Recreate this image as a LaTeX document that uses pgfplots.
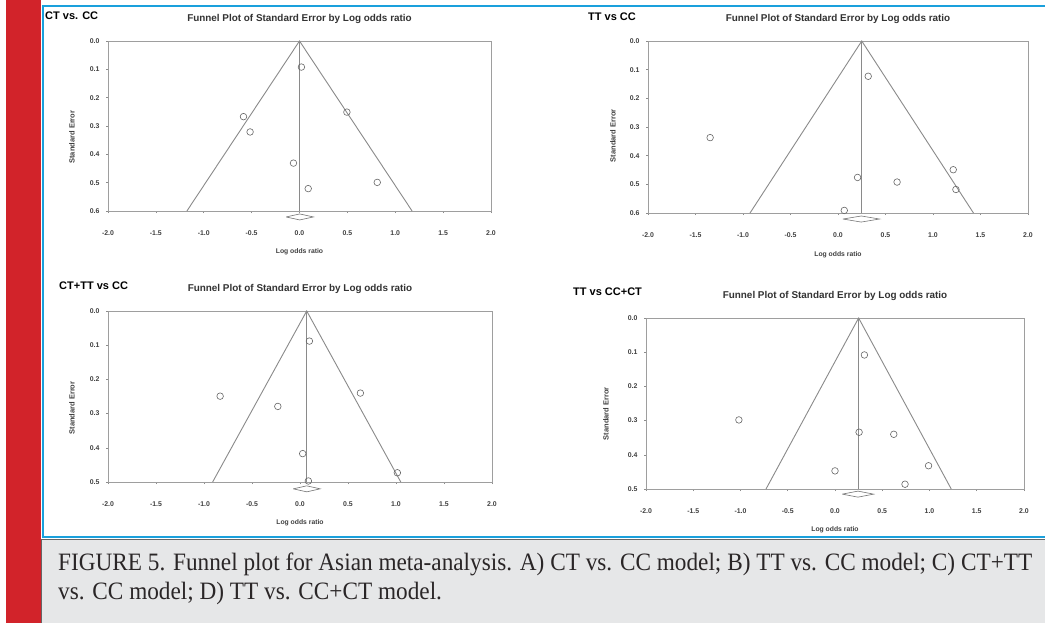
\documentclass[border=0pt]{standalone}
\usepackage{fontspec}
\setmainfont{Liberation Sans}
\newfontfamily\capfont{Liberation Serif}[FakeStretch=0.93]
\usepackage{pgfplots}
\pgfplotsset{compat=1.18}
\definecolor{figred}{HTML}{D2232A}
\definecolor{figblue}{HTML}{1AA0DC}
\definecolor{capgray}{HTML}{E6E7E8}
\definecolor{captext}{HTML}{2A2627}
\definecolor{plotgray}{HTML}{8A8A8A}
\pgfplotsset{
  funnel/.style={
    scale only axis, clip=false,
    xmin=-2, xmax=2, ymin=0, y dir=reverse,
    axis line style={draw=black!38, line width=0.9pt},
    xtick={-2,-1.5,-1,-0.5,0,0.5,1,1.5,2},
    xtick pos=bottom, ytick pos=left,
    tick align=outside, major tick length=2pt,
    tick style={draw=black!45, line width=0.6pt},
    tick label style={font=\fontsize{6.9}{7.5}\selectfont\bfseries, text=black!75},
    xticklabel style={yshift=-14pt},
    yticklabel style={xshift=-3pt},
    /pgf/number format/.cd, fixed, fixed zerofill, precision=1, assume math mode=true,
    /pgfplots/.cd,
    title={Funnel Plot of Standard Error by Log odds ratio},
    title style={font=\fontsize{9.9}{11}\selectfont\bfseries, text=black!80, anchor=center, yshift=0pt, at={(axis description cs:0.5,1.094)}},
    xlabel={Log odds ratio},
    xlabel style={font=\fontsize{6.8}{7}\selectfont\bfseries, text=black!75, anchor=center, at={(axis description cs:0.5,-0.241)}},
    ylabel={Standard Error},
    ylabel style={font=\fontsize{7.5}{8}\selectfont\bfseries, text=black!75, anchor=center},
  },
  fline/.style={draw=plotgray, line width=0.9pt, no marks},
  studies/.style={only marks, mark=o, mark size=3.3pt, mark options={draw=black!60, line width=0.6pt}},
  diam/.style={draw=black!55, line width=0.6pt, no marks, fill=white},
}
\begin{document}
\begin{tikzpicture}
\fill[white] (0pt,0pt) rectangle (1045pt,-623pt);
\fill[figred] (6pt,0pt) rectangle (40.5pt,-623pt);
\fill[capgray] (41pt,-539pt) rectangle (1045pt,-623pt);
\draw[black!60, line width=1.2pt] (41.5pt,-539pt) -- (41.5pt,-623pt);
\draw[black!60, line width=1pt] (41pt,-539.5pt) -- (1045pt,-539.5pt);
\draw[figblue, line width=2.2pt] (1045pt,-6pt) -- (42.6pt,-6pt) -- (42.6pt,-537.3pt) -- (1045pt,-537.3pt);

% ---------- Panel A ----------
\begin{axis}[funnel, at={(108pt,-211pt)}, anchor=south west, width=383pt, height=170pt,
  ymax=0.6, ytick={0,0.1,0.2,0.3,0.4,0.5,0.6},
  ylabel style={at={(axis description cs:-0.094,0.435)}}]
\addplot[fline] coordinates {(-1.176,0.6) (0,0) (1.176,0.6)};
\addplot[fline] coordinates {(0,0) (0,0.6)};
\addplot[studies] coordinates {(0.02,0.092) (-0.585,0.267) (-0.516,0.321) (0.495,0.251) (-0.063,0.431) (0.812,0.499) (0.091,0.521)};
\addplot[diam] coordinates {(-0.14,0.621) (0.0025,0.6104) (0.145,0.621) (0.0025,0.6316) (-0.14,0.621)};
\end{axis}
\node[anchor=west, inner sep=0pt, font=\fontsize{11}{12}\selectfont\bfseries] at (45pt,-16pt) {CT vs. CC};

% ---------- Panel B ----------
\begin{axis}[funnel, at={(648pt,-213pt)}, anchor=south west, width=380pt, height=172pt,
  ymax=0.6, ytick={0,0.1,0.2,0.3,0.4,0.5,0.6},
  title style={at={(axis description cs:0.5,1.093)}},
  ylabel style={at={(axis description cs:-0.092,0.45)}}]
\addplot[fline] coordinates {(-0.926,0.6) (0.25,0) (1.426,0.6)};
\addplot[fline] coordinates {(0.25,0) (0.25,0.6)};
\addplot[studies] coordinates {(0.318,0.123) (-1.346,0.337) (0.206,0.476) (0.622,0.492) (1.213,0.449) (1.241,0.518) (0.066,0.591)};
\addplot[diam] coordinates {(0.052,0.621) (0.245,0.6104) (0.437,0.621) (0.245,0.6316) (0.052,0.621)};
\end{axis}
\node[anchor=west, inner sep=0pt, font=\fontsize{11}{12}\selectfont\bfseries] at (588pt,-17pt) {TT vs CC};

% ---------- Panel C ----------
\begin{axis}[funnel, at={(108pt,-482pt)}, anchor=south west, width=384pt, height=171pt,
  ymax=0.5, ytick={0,0.1,0.2,0.3,0.4,0.5},
  ylabel style={at={(axis description cs:-0.094,0.433)}}]
\addplot[fline] coordinates {(-0.91,0.5) (0.07,0) (1.05,0.5)};
\addplot[fline] coordinates {(0.07,0) (0.07,0.5)};
\addplot[studies] coordinates {(0.098,0.088) (-0.832,0.249) (-0.231,0.279) (0.629,0.240) (0.028,0.417) (1.014,0.473) (0.087,0.497)};
\addplot[diam] coordinates {(-0.07,0.52) (0.07,0.5112) (0.21,0.52) (0.07,0.5288) (-0.07,0.52)};
\end{axis}
\node[anchor=west, inner sep=0pt, font=\fontsize{11}{12}\selectfont\bfseries] at (59pt,-286pt) {CT+TT vs CC};

% ---------- Panel D ----------
\begin{axis}[funnel, at={(646pt,-489pt)}, anchor=south west, width=378pt, height=171pt,
  ymax=0.5, ytick={0,0.1,0.2,0.3,0.4,0.5},
  ylabel style={at={(axis description cs:-0.106,0.44)}}]
\addplot[fline] coordinates {(-0.73,0.5) (0.25,0) (1.23,0.5)};
\addplot[fline] coordinates {(0.25,0) (0.25,0.5)};
\addplot[studies] coordinates {(0.311,0.108) (-1.017,0.298) (0.255,0.334) (0.622,0.340) (0.0,0.447) (0.99,0.432) (0.741,0.486)};
\addplot[diam] coordinates {(0.077,0.515) (0.243,0.5062) (0.409,0.515) (0.243,0.5238) (0.077,0.515)};
\end{axis}
\node[anchor=west, inner sep=0pt, font=\fontsize{11}{12}\selectfont\bfseries] at (573pt,-292pt) {TT vs CC+CT};

% ---------- Caption ----------
\node[anchor=base west, inner sep=0pt, text=captext, font=\capfont\fontsize{25}{29}\selectfont] at (58pt,-570pt) {FIGURE 5. Funnel plot for Asian meta-analysis. A) CT vs. CC model; B) TT vs. CC model; C) CT+TT};
\node[anchor=base west, inner sep=0pt, text=captext, font=\capfont\fontsize{25}{29}\selectfont] at (58pt,-599pt) {vs. CC model; D) TT vs. CC+CT model.};

\pgfresetboundingbox
\useasboundingbox (0pt,0pt) rectangle (1045pt,-623pt);
\end{tikzpicture}
\end{document}
